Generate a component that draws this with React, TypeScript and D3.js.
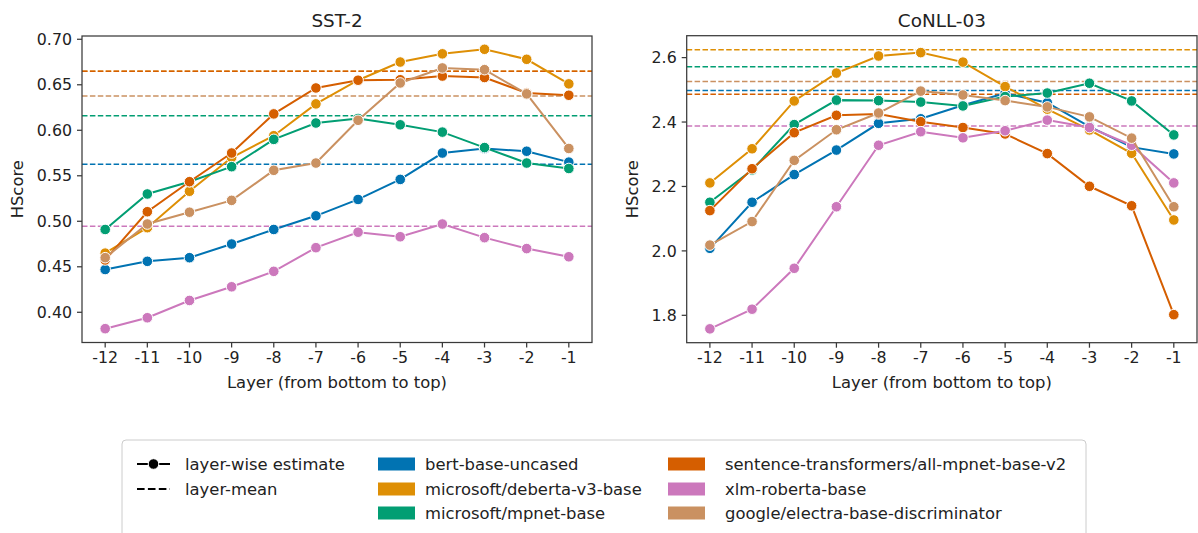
import React from "react";
import * as d3 from "d3";

const layers = [-12, -11, -10, -9, -8, -7, -6, -5, -4, -3, -2, -1];
const models = [
  "bert-base-uncased",
  "microsoft/deberta-v3-base",
  "microsoft/mpnet-base",
  "sentence-transformers/all-mpnet-base-v2",
  "xlm-roberta-base",
  "google/electra-base-discriminator",
];
const colors = ["#0173B2", "#DE8F05", "#029E73", "#D55E00", "#CC78BC", "#CA9161"];

const sstBert = [0.447, 0.456, 0.460, 0.475, 0.491, 0.506, 0.524, 0.546, 0.575, 0.580, 0.577, 0.565];
const sstDeberta = [0.465, 0.493, 0.533, 0.570, 0.594, 0.629, 0.655, 0.675, 0.684, 0.689, 0.678, 0.651];
const sstMpnet = [0.491, 0.530, 0.5435, 0.560, 0.590, 0.608, 0.613, 0.606, 0.598, 0.581, 0.564, 0.558];
const sstSent = [0.4575, 0.5105, 0.5435, 0.575, 0.618, 0.6465, 0.655, 0.6555, 0.6596, 0.658, 0.641, 0.6385];
const sstXlm = [0.382, 0.394, 0.413, 0.428, 0.445, 0.471, 0.488, 0.483, 0.497, 0.482, 0.470, 0.461];
const sstElectra = [0.460, 0.497, 0.510, 0.523, 0.556, 0.564, 0.611, 0.652, 0.6685, 0.6666, 0.640, 0.580];
const sstMeans = [0.5626, 0.6648, 0.616, 0.6648, 0.4945, 0.6377];

const conBert = [2.008, 2.151, 2.237, 2.313, 2.396, 2.410, 2.452, 2.489, 2.460, 2.386, 2.322, 2.301];
const conDeberta = [2.211, 2.317, 2.4655, 2.552, 2.605, 2.6155, 2.586, 2.510, 2.440, 2.3755, 2.303, 2.096];
const conMpnet = [2.151, 2.251, 2.392, 2.468, 2.4665, 2.462, 2.450, 2.479, 2.490, 2.5205, 2.4655, 2.360];
const conSent = [2.125, 2.255, 2.367, 2.421, 2.425, 2.401, 2.383, 2.363, 2.302, 2.2006, 2.140, 1.802];
const conXlm = [1.758, 1.819, 1.946, 2.137, 2.328, 2.370, 2.351, 2.373, 2.406, 2.383, 2.328, 2.211];
const conElectra = [2.018, 2.091, 2.281, 2.376, 2.428, 2.496, 2.484, 2.4665, 2.447, 2.416, 2.350, 2.137];
const conMeans = [2.4975, 2.624, 2.572, 2.4863, 2.388, 2.5255];

const sstTicks = [0.4, 0.45, 0.5, 0.55, 0.6, 0.65, 0.7];
const conTicks = [1.8, 2.0, 2.2, 2.4, 2.6];

const FONT = "DejaVu Sans, sans-serif";
const SPINE = "#3a3a3a";
const TICK_FS = 15.8;
const LABEL_FS = 16.4;
const TITLE_FS = 18.4;

type PanelProps = {
  title: string;
  x0: number;
  x1: number;
  y0: number;
  y1: number;
  yDomain: [number, number];
  series: number[][];
  means: number[];
  ticks: number[];
  tickFmt: (v: number) => string;
  ylabelX: number;
};

function Panel(p: PanelProps) {
  const x = d3.scaleLinear().domain([-12.55, -0.45]).range([p.x0, p.x1]);
  const y = d3.scaleLinear().domain(p.yDomain).range([p.y1, p.y0]);
  const line = d3
    .line<number>()
    .x((_, i) => x(layers[i]))
    .y((v) => y(v));
  const cx = (p.x0 + p.x1) / 2;
  return (
    <g>
      <defs>
        <clipPath id={"clip-" + p.title}>
          <rect x={p.x0} y={p.y0} width={p.x1 - p.x0} height={p.y1 - p.y0} />
        </clipPath>
      </defs>
      <g clipPath={`url(#clip-${p.title})`}>
        {p.means.map((m, i) => (
          <line
            key={"m" + i}
            x1={p.x0}
            x2={p.x1}
            y1={y(m)}
            y2={y(m)}
            stroke={colors[i]}
            strokeWidth={1.5}
            strokeDasharray="5.5,2.4"
          />
        ))}
        {p.series.map((s, i) => (
          <g key={"s" + i}>
            <path d={line(s) || ""} fill="none" stroke={colors[i]} strokeWidth={2} />
            {s.map((v, j) => (
              <circle
                key={j}
                cx={x(layers[j])}
                cy={y(v)}
                r={5.3}
                fill={colors[i]}
                stroke="#fff"
                strokeWidth={1}
              />
            ))}
          </g>
        ))}
      </g>
      <rect
        x={p.x0}
        y={p.y0}
        width={p.x1 - p.x0}
        height={p.y1 - p.y0}
        fill="none"
        stroke={SPINE}
        strokeWidth={1.25}
      />
      {layers.map((l) => (
        <g key={"xt" + l}>
          <line x1={x(l)} x2={x(l)} y1={p.y1} y2={p.y1 + 5} stroke={SPINE} strokeWidth={1.25} />
          <text
            x={x(l)}
            y={p.y1 + 20.5}
            textAnchor="middle"
            fontFamily={FONT}
            fontSize={TICK_FS}
            fill="#222"
          >
            {String(l)}
          </text>
        </g>
      ))}
      {p.ticks.map((t) => (
        <g key={"yt" + t}>
          <line x1={p.x0 - 5} x2={p.x0} y1={y(t)} y2={y(t)} stroke={SPINE} strokeWidth={1.25} />
          <text
            x={p.x0 - 10}
            y={y(t)}
            dy="0.36em"
            textAnchor="end"
            fontFamily={FONT}
            fontSize={TICK_FS}
            fill="#222"
          >
            {p.tickFmt(t)}
          </text>
        </g>
      ))}
      <text
        x={cx}
        y={p.y1 + 45.5}
        textAnchor="middle"
        fontFamily={FONT}
        fontSize={LABEL_FS}
        fill="#222"
      >
        Layer (from bottom to top)
      </text>
      <text
        transform={`translate(${p.ylabelX},${(p.y0 + p.y1) / 2}) rotate(-90)`}
        textAnchor="middle"
        fontFamily={FONT}
        fontSize={LABEL_FS}
        fill="#222"
      >
        HScore
      </text>
      <text
        x={cx}
        y={p.y0 - 9}
        textAnchor="middle"
        fontFamily={FONT}
        fontSize={TITLE_FS}
        fill="#222"
      >
        {p.title}
      </text>
    </g>
  );
}

function Legend() {
  const rowY = [464, 489, 513];
  const patchCols = [
    { px: 378, tx: 425, items: [0, 1, 2] },
    { px: 668, tx: 725, items: [3, 4, 5] },
  ];
  return (
    <g fontFamily={FONT} fontSize={LABEL_FS} fill="#222">
      <rect x={122} y={440} width={964} height={110} rx={4} fill="#fff" stroke="#cccccc" strokeWidth={1} />
      <line x1={137} x2={170} y1={rowY[0]} y2={rowY[0]} stroke="#000" strokeWidth={2.2} />
      <circle cx={153.5} cy={rowY[0]} r={5.3} fill="#000" stroke="#fff" strokeWidth={1} />
      <text x={185} y={rowY[0]} dy="0.36em">layer-wise estimate</text>
      <line
        x1={137}
        x2={170}
        y1={rowY[1]}
        y2={rowY[1]}
        stroke="#000"
        strokeWidth={2.2}
        strokeDasharray="7.6,3.3"
      />
      <text x={185} y={rowY[1]} dy="0.36em">layer-mean</text>
      {patchCols.map((c) =>
        c.items.map((m, k) => (
          <g key={m}>
            <rect x={c.px} y={rowY[k] - 6.5} width={37} height={13} fill={colors[m]} />
            <text x={c.tx} y={rowY[k]} dy="0.36em">
              {models[m]}
            </text>
          </g>
        ))
      )}
    </g>
  );
}

export default function App() {
  const fmt2 = d3.format(".2f");
  const fmt1 = d3.format(".1f");
  return (
    <svg
      width={1198}
      height={533}
      style={{ position: "absolute", left: 0, top: 0, background: "#fff" }}
    >
      <rect width={1198} height={533} fill="#fff" />
      <Panel
        title="SST-2"
        x0={82}
        x1={592}
        y0={36}
        y1={342.5}
        yDomain={[0.3668, 0.7036]}
        series={[sstBert, sstDeberta, sstMpnet, sstSent, sstXlm, sstElectra]}
        means={sstMeans}
        ticks={sstTicks}
        tickFmt={fmt2}
        ylabelX={23}
      />
      <Panel
        title="CoNLL-03"
        x0={686.7}
        x1={1197}
        y0={35.7}
        y1={342.7}
        yDomain={[1.715, 2.668]}
        series={[conBert, conDeberta, conMpnet, conSent, conXlm, conElectra]}
        means={conMeans}
        ticks={conTicks}
        tickFmt={fmt1}
        ylabelX={638}
      />
      <Legend />
    </svg>
  );
}
